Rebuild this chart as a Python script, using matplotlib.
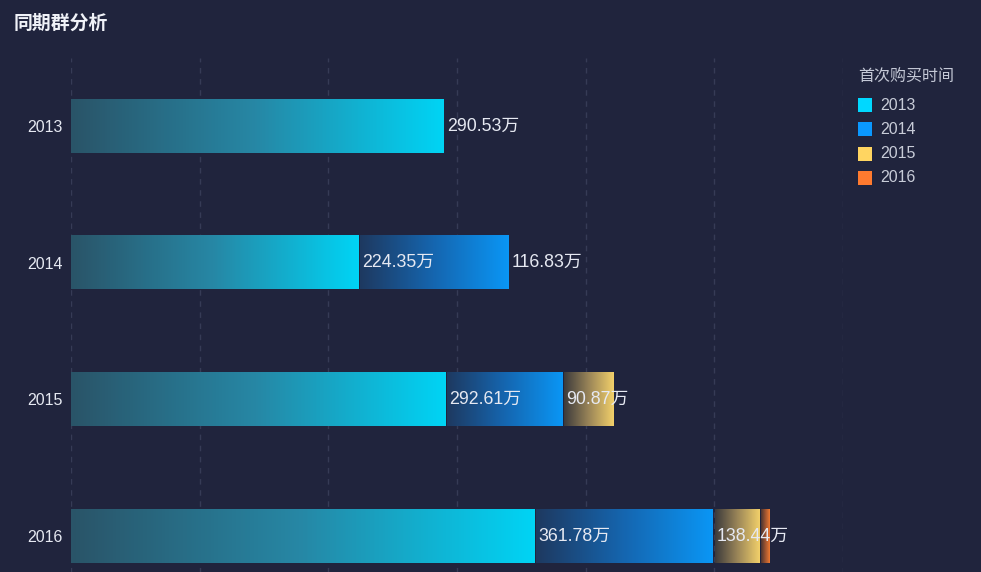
# -*- coding: utf-8 -*-
"""
同期群分析 - 横向堆叠渐变条形图
"""

import matplotlib.pyplot as plt
import matplotlib.colors as mcolors
from matplotlib.patches import Rectangle
import numpy as np

plt.rcParams['font.family'] = ['Liberation Sans', 'Noto Sans CJK SC']

# 数据（单位：万）
title = '同期群分析'
legend_title = '首次购买时间'
years = ['2013', '2014', '2015', '2016']
cohort_2013 = [290.53, 224.35, 292.61, 361.78]
cohort_2014 = [0, 116.83, 90.87, 138.44]
cohort_2015 = [0, 0, 39.4, 35.8]
cohort_2016 = [0, 0, 0, 7.8]
series = [cohort_2013, cohort_2014, cohort_2015, cohort_2016]

# 样式
bg = '#20243d'
colors = ['#00d8ff', '#0a98ff', '#ffd561', '#ff7a2f']
# 渐变: 起点 / 中点 / 终点
gradients = [
    ['#2a5468', '#2688a6', '#00d4f5'],
    ['#1e3960', '#1566b0', '#0a96f5'],
    ['#3c3a3c', '#9a8558', '#f2d06a'],
    ['#4a3430', '#a05530', '#f07a30'],
]
text_color = '#e6e9f2'

W, H = 981, 572
fig = plt.figure(figsize=(W / 100, H / 100), dpi=100, facecolor=bg)
# 坐标轴区域（底部故意伸出画布，与原图裁切一致）
ax_left, ax_right, ax_top, ax_bottom = 71, 843, 57.7, 604.3
ax = fig.add_axes([ax_left / W, 1 - ax_bottom / H,
                   (ax_right - ax_left) / W, (ax_bottom - ax_top) / H])
ax.set_facecolor(bg)

gap = 1.5 * 600 / (ax_right - ax_left)  # 段间约 1.5 像素的缝隙
y = np.arange(len(years))
left = np.zeros(len(years))
labels_by_row = {i: [] for i in range(len(years))}

for vals, stops in zip(series, gradients):
    vals = np.array(vals, dtype=float)
    bars = ax.barh(y, vals, left=left, height=0.39, color='none',
                   linewidth=0, zorder=3)
    cmap = mcolors.LinearSegmentedColormap.from_list('g', stops)
    for i, (bar, v) in enumerate(zip(bars, vals)):
        if v <= 0:
            continue
        x0, w = bar.get_x(), bar.get_width()
        yb, h = bar.get_y(), bar.get_height()
        grad = np.linspace(0, 1, 256)[None, :]
        ax.imshow(grad, cmap=cmap, extent=[x0, x0 + w - gap, yb + h, yb],
                  aspect='auto', zorder=2, interpolation='nearest')
        t = ax.annotate(f'{v:.2f}万', xy=(x0 + w, y[i]), xytext=(1.5, 0),
                        textcoords='offset points', va='center', ha='left',
                        fontsize=12.8, color=text_color, zorder=5)
        labels_by_row[i].append(t)
    left += vals

ax.set_xlim(0, 600)
ax.set_ylim(len(years) - 0.5, -0.5)
ax.set_yticks(y)
ax.set_yticklabels(years, fontsize=11.5, color=text_color)
ax.set_xticks(np.arange(0, 700, 100))
ax.tick_params(axis='x', length=0, labelbottom=False)
ax.tick_params(axis='y', length=0, pad=6)
ax.xaxis.grid(True, color='#363b56', linestyle=(0, (4, 4)), linewidth=1)
ax.set_axisbelow(True)
for s in ax.spines.values():
    s.set_visible(False)

# 隐藏重叠标签
fig.canvas.draw()
renderer = fig.canvas.get_renderer()
for i, texts in labels_by_row.items():
    prev = None
    for t in texts:
        bb = t.get_window_extent(renderer)
        if prev is not None and bb.x0 < prev.x1:
            t.set_visible(False)
        else:
            prev = bb

# 标题
fig.text(14 / W, 1 - 24 / H, title, fontsize=13.6, fontweight='bold',
         color='#f0f2f8', va='center', ha='left')

# 图例
fig.text(858 / W, 1 - 77 / H, legend_title, fontsize=11.5, color='#c4c8d6',
         va='center', ha='left')
for k, (name, c) in enumerate(zip(years, colors)):
    yc = 105 + k * 24.3
    fig.add_artist(Rectangle((858 / W, 1 - (yc + 7) / H), 14 / W, 14 / H,
                             transform=fig.transFigure, facecolor=c,
                             edgecolor='none'))
    fig.text(880 / W, 1 - yc / H, name, fontsize=11.5, color='#c8ccd8',
             va='center', ha='left')

plt.savefig('out.png', dpi=100, facecolor=bg)
